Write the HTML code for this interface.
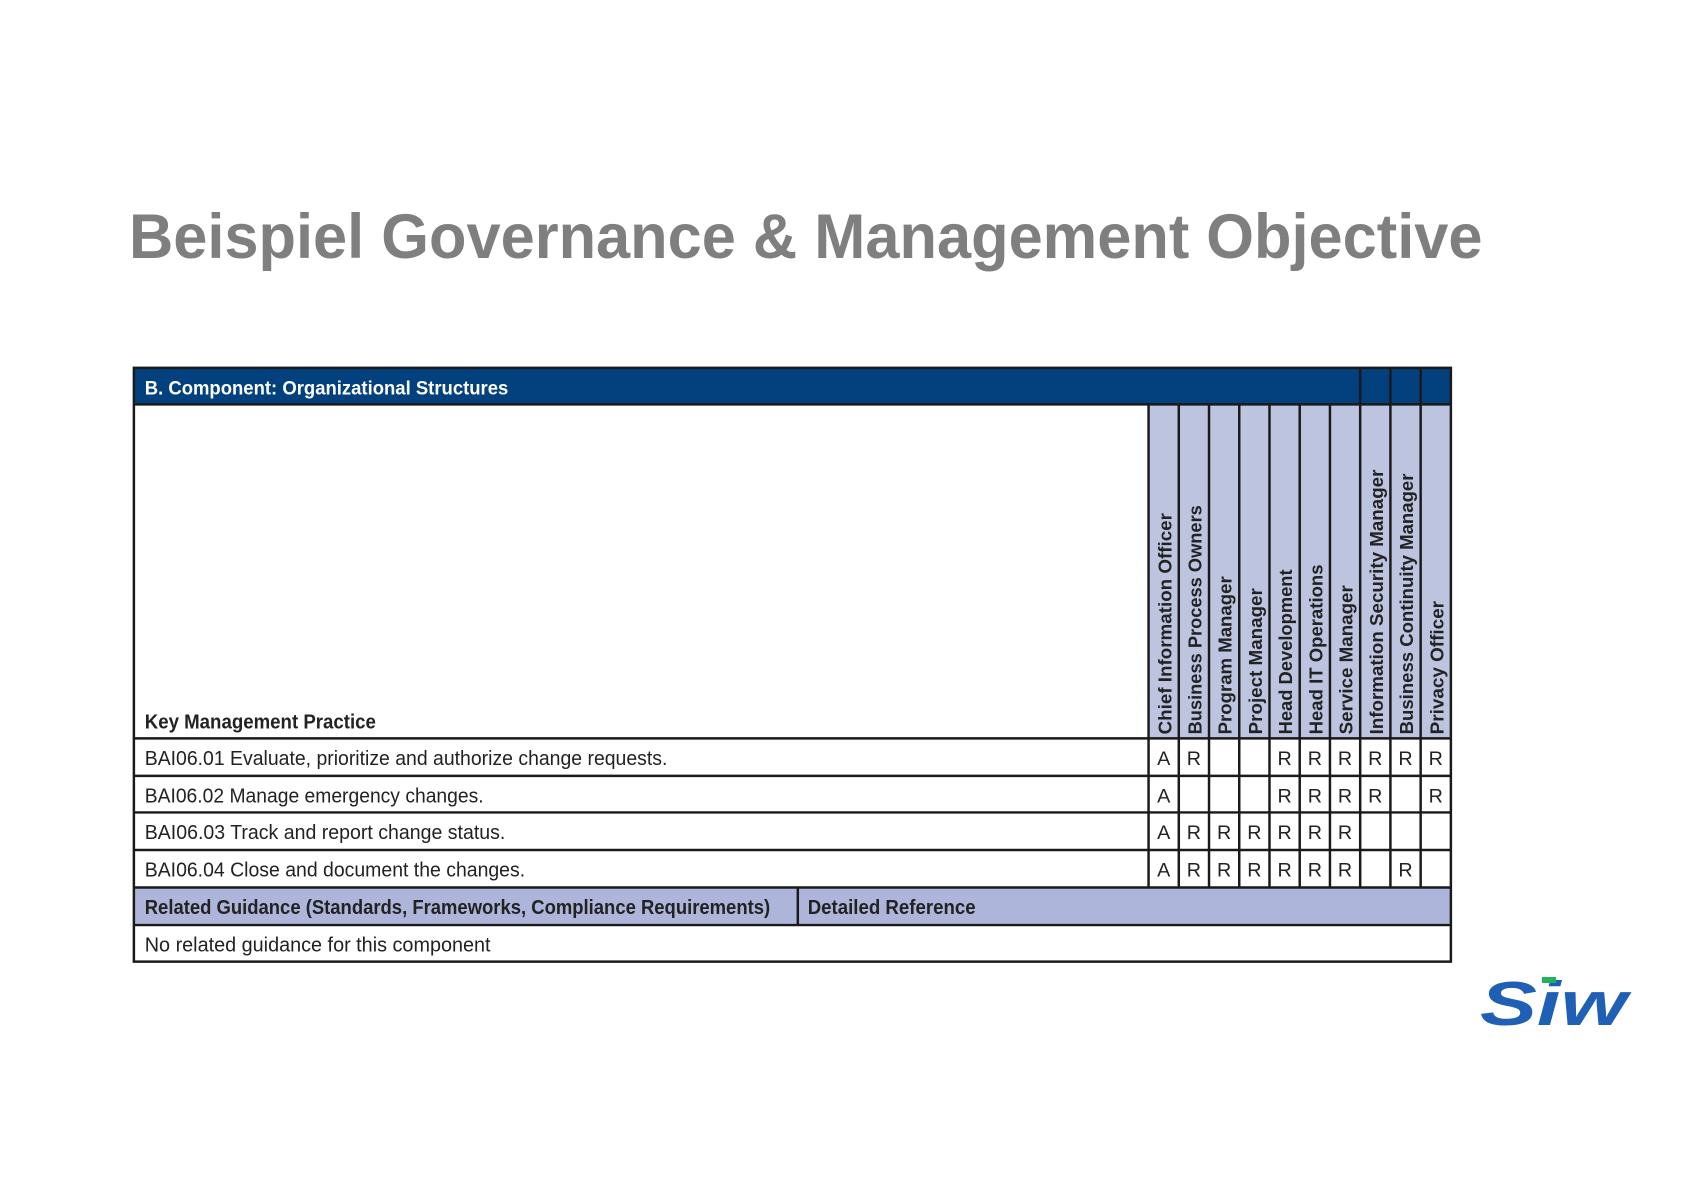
<!DOCTYPE html>
<html><head><meta charset="utf-8"><style>html,body{margin:0;padding:0;background:#fff;}svg{display:block}</style></head>
<body>
<svg width="1683" height="1190" viewBox="0 0 1683 1190" xmlns="http://www.w3.org/2000/svg" font-family="Liberation Sans, sans-serif">
<rect width="1683" height="1190" fill="#fff"/>
<g transform="translate(0.5,0.3) scale(0.988)">
<text x="130" y="261" font-size="64" font-weight="bold" fill="#7f7f7f" textLength="1370" lengthAdjust="spacingAndGlyphs">Beispiel Governance &amp; Management Objective</text>

<rect x="135" y="372" width="1333" height="37" fill="#02407e"/>
<text x="146" y="399" font-size="20" font-weight="bold" fill="#fff" textLength="368" lengthAdjust="spacingAndGlyphs">B. Component: Organizational Structures</text>
<rect x="1162" y="409" width="306" height="338" fill="#bcc4e0"/>
<rect x="135" y="898" width="1333" height="38" fill="#adb6da"/>

<g stroke="#1a1a1a" stroke-width="2.5" fill="none">
<rect x="135" y="372" width="1333" height="601"/>
<line x1="135" y1="409" x2="1468" y2="409"/>
<line x1="135" y1="747" x2="1468" y2="747"/>
<line x1="135" y1="785" x2="1468" y2="785"/>
<line x1="135" y1="822" x2="1468" y2="822"/>
<line x1="135" y1="860" x2="1468" y2="860"/>
<line x1="135" y1="898" x2="1468" y2="898"/>
<line x1="135" y1="936" x2="1468" y2="936"/>
<line x1="807" y1="898" x2="807" y2="936"/>
<line x1="1162" y1="409" x2="1162" y2="898"/>
<line x1="1192.6" y1="409" x2="1192.6" y2="898"/>
<line x1="1223.2" y1="409" x2="1223.2" y2="898"/>
<line x1="1253.8" y1="409" x2="1253.8" y2="898"/>
<line x1="1284.4" y1="409" x2="1284.4" y2="898"/>
<line x1="1315" y1="409" x2="1315" y2="898"/>
<line x1="1345.6" y1="409" x2="1345.6" y2="898"/>
<line x1="1376.2" y1="372" x2="1376.2" y2="898"/>
<line x1="1406.8" y1="372" x2="1406.8" y2="898"/>
<line x1="1437.4" y1="372" x2="1437.4" y2="898"/>
</g>

<g font-size="19" font-weight="bold" fill="#222">
<text transform="translate(1185,743) rotate(-90)" textLength="224" lengthAdjust="spacingAndGlyphs">Chief Information Officer</text>
<text transform="translate(1215.6,743) rotate(-90)" textLength="232" lengthAdjust="spacingAndGlyphs">Business Process Owners</text>
<text transform="translate(1246.2,743) rotate(-90)" textLength="160" lengthAdjust="spacingAndGlyphs">Program Manager</text>
<text transform="translate(1276.8,743) rotate(-90)" textLength="148" lengthAdjust="spacingAndGlyphs">Project Manager</text>
<text transform="translate(1307.4,743) rotate(-90)" textLength="167" lengthAdjust="spacingAndGlyphs">Head Development</text>
<text transform="translate(1338,743) rotate(-90)" textLength="172" lengthAdjust="spacingAndGlyphs">Head IT Operations</text>
<text transform="translate(1368.6,743) rotate(-90)" textLength="151" lengthAdjust="spacingAndGlyphs">Service Manager</text>
<text transform="translate(1399.2,743) rotate(-90)" textLength="268" lengthAdjust="spacingAndGlyphs">Information Security Manager</text>
<text transform="translate(1429.8,743) rotate(-90)" textLength="264" lengthAdjust="spacingAndGlyphs">Business Continuity Manager</text>
<text transform="translate(1460.4,743) rotate(-90)" textLength="135" lengthAdjust="spacingAndGlyphs">Privacy Officer</text>
</g>

<g font-size="21" fill="#222">
<text x="146" y="737" font-weight="bold" textLength="234" lengthAdjust="spacingAndGlyphs">Key Management Practice</text>
<text x="146" y="774" textLength="529" lengthAdjust="spacingAndGlyphs">BAI06.01 Evaluate, prioritize and authorize change requests.</text>
<text x="146" y="812" textLength="343" lengthAdjust="spacingAndGlyphs">BAI06.02 Manage emergency changes.</text>
<text x="146" y="849" textLength="365" lengthAdjust="spacingAndGlyphs">BAI06.03 Track and report change status.</text>
<text x="146" y="887" textLength="385" lengthAdjust="spacingAndGlyphs">BAI06.04 Close and document the changes.</text>
<text x="146" y="925" font-weight="bold" textLength="633" lengthAdjust="spacingAndGlyphs">Related Guidance (Standards, Frameworks, Compliance Requirements)</text>
<text x="817" y="925" font-weight="bold" textLength="170" lengthAdjust="spacingAndGlyphs">Detailed Reference</text>
<text x="146" y="963" textLength="350" lengthAdjust="spacingAndGlyphs">No related guidance for this component</text>
</g>

<g font-size="20" fill="#222" text-anchor="middle">
<text x="1177.3" y="774">A</text><text x="1207.9" y="774">R</text>
<text x="1299.7" y="774">R</text><text x="1330.3" y="774">R</text><text x="1360.9" y="774">R</text><text x="1391.5" y="774">R</text><text x="1422.1" y="774">R</text><text x="1452.7" y="774">R</text>
<text x="1177.3" y="812">A</text>
<text x="1299.7" y="812">R</text><text x="1330.3" y="812">R</text><text x="1360.9" y="812">R</text><text x="1391.5" y="812">R</text><text x="1452.7" y="812">R</text>
<text x="1177.3" y="849">A</text><text x="1207.9" y="849">R</text><text x="1238.5" y="849">R</text><text x="1269.1" y="849">R</text><text x="1299.7" y="849">R</text><text x="1330.3" y="849">R</text><text x="1360.9" y="849">R</text>
<text x="1177.3" y="887">A</text><text x="1207.9" y="887">R</text><text x="1238.5" y="887">R</text><text x="1269.1" y="887">R</text><text x="1299.7" y="887">R</text><text x="1330.3" y="887">R</text><text x="1360.9" y="887">R</text><text x="1422.1" y="887">R</text>
</g>
</g>

<text x="1480" y="1025" font-size="62" font-weight="bold" font-style="italic" fill="#1f5fb4" textLength="147" lengthAdjust="spacingAndGlyphs">Siw</text>
<rect x="1542" y="977" width="14" height="6" fill="#22b35a"/>
</svg>
</body></html>
